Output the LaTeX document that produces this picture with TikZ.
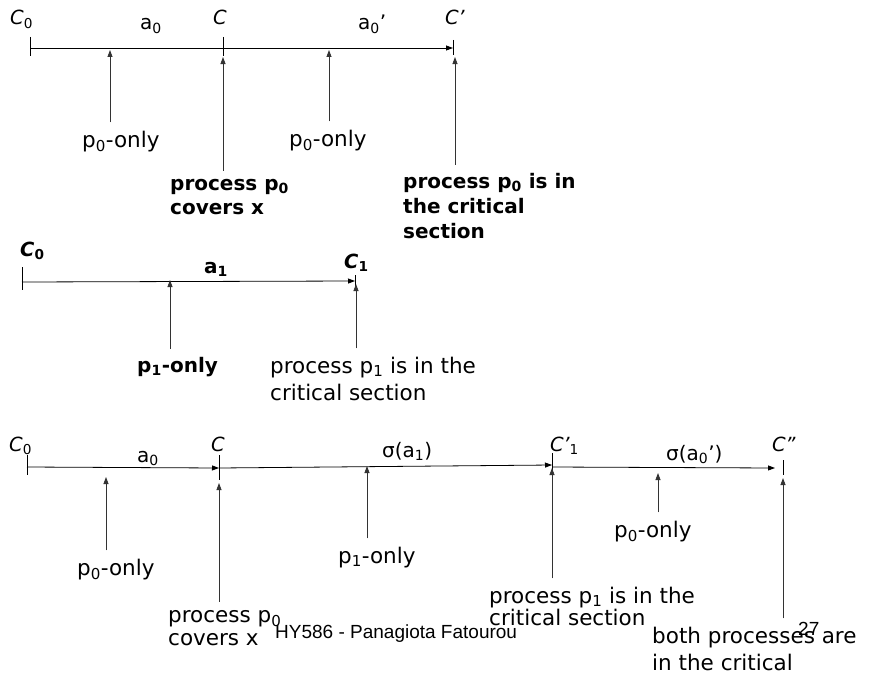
\documentclass[tikz,border=0pt]{standalone}
\usepackage{fontspec}
\setmainfont{DejaVu Sans}
\newfontfamily\slidefont{Liberation Sans}
\usetikzlibrary{arrows.meta}
\newcommand{\idx}[1]{\textsubscript{\upshape #1}}

\begin{document}
\begin{tikzpicture}[
    x=1pt, y=-1pt,
    cfg/.style={
        anchor=base west,
        inner sep=0pt,
        font=\fontsize{19.5}{22}\selectfont\itshape
    },
    act/.style={
        anchor=base west,
        inner sep=0pt,
        font=\fontsize{20}{22}\selectfont
    },
    note/.style={
        anchor=base west,
        inner sep=0pt,
        align=left,
        font=\fontsize{21.5}{25}\selectfont
    },
    bnote/.style={
        note,
        font=\fontsize{20}{24}\selectfont\bfseries
    },
    run/.style={
        -{Triangle[length=7pt, width=5pt]},
        line width=0.8pt
    },
    tick/.style={line width=0.8pt},
    feed/.style={
        -{Triangle[length=7pt, width=5pt]},
        line width=0.8pt,
        color=black!80,
        shorten <=8pt
    }
]
    \useasboundingbox (0,0) rectangle (869,677);

    % Row 1: a_0 then a_0' from C_0
    \coordinate (r1s) at (30,48);
    \coordinate (r1c) at (223,48);
    \coordinate (r1e) at (453,48);
    \draw[run] (r1s) -- (r1e);
    \draw[tick] ([yshift=11pt]r1s) -- ([yshift=-8pt]r1s);
    \draw[tick] ([yshift=11pt]r1c) -- ([yshift=-8pt]r1c);
    \draw[tick] ([yshift=8pt]r1e) -- ([yshift=-7pt]r1e);

    \node[cfg] (c0a) at (10,25) {C\idx{0}};
    \node[act] (a0a) at (140,30) {a\idx{0}};
    \node[cfg] (ca) at (213,25) {C};
    \node[act] (a0pa) at (358,30) {a\idx{0}'};
    \node[cfg] (cpa) at (445,25) {C'};

    \coordinate (h1a) at (110,50);
    \coordinate (h1b) at (223,57);
    \coordinate (h1c) at (329,50);
    \coordinate (h1d) at (455,57);

    \node[note] (p0a) at (82,147) {p\idx{0}-only};
    \node[note] (p0b) at (289,146) {p\idx{0}-only};
    \node[bnote] (cov1) at (170,214) {process p\idx{0}\\covers x};
    \node[bnote, font=\fontsize{20}{25}\selectfont\bfseries] (crit1) at (403,238) {process p\idx{0} is in\\the critical\\section};

    \draw[feed] (p0a.north -| h1a) -- (h1a);
    \draw[feed] (cov1.north -| h1b) -- (h1b);
    \draw[feed] (p0b.north -| h1c) -- (h1c);
    \draw[feed] (crit1.north -| h1d) -- (h1d);

    % Row 2: a_1 from C_0
    \coordinate (r2s) at (22,282);
    \coordinate (r2e) at (355,281);
    \draw[run] (r2s) -- (r2e);
    \draw[tick] ([yshift=15pt]r2s) -- ([yshift=-8pt]r2s);
    \draw[tick] ([yshift=6pt]r2e) -- ([yshift=-8pt]r2e);

    \node[cfg, font=\fontsize{19.5}{22}\selectfont\bfseries\itshape] (c0b) at (20,256) {C\idx{0}};
    \node[act, font=\fontsize{20}{22}\selectfont\bfseries] (a1b) at (204,273) {a\idx{1}};
    \node[cfg, font=\fontsize{19.5}{22}\selectfont\bfseries\itshape] (c1b) at (344,268) {C\idx{1}};

    \coordinate (h2a) at (170,280);
    \coordinate (h2b) at (356,284);

    \node[bnote] (p1b) at (137,372) {p\idx{1}-only};
    \node[note, font=\fontsize{21.5}{27}\selectfont] (crit2) at (270,400) {process p\idx{1} is in the\\critical section};

    \draw[feed] (p1b.north -| h2a) -- (h2a);
    \draw[feed] (crit2.north -| h2b) -- (h2b);

    % Row 3: a_0, sigma(a_1), sigma(a_0')
    \coordinate (r3s) at (27,467);
    \coordinate (r3c) at (219,468);
    \coordinate (r3d) at (552,465);
    \coordinate (r3d2) at (552,467);
    \coordinate (r3e) at (775,468);
    \coordinate (r3f) at (783,468);
    \draw[run] (r3s) -- (r3c);
    \draw[run] (r3c) -- (r3d);
    \draw[run] (r3d2) -- (r3e);
    \draw[tick] ([yshift=12pt]r3s) -- ([yshift=-8pt]r3s);
    \draw[tick] ([yshift=13pt]r3c) -- ([yshift=-12pt]r3c);
    \draw[tick] ([yshift=12pt]r3d) -- ([yshift=-5pt]r3d);
    \draw[tick] ([yshift=8pt]r3f) -- ([yshift=-7pt]r3f);

    \node[cfg] (c0c) at (9,451) {C\idx{0}};
    \node[act] (a0c) at (137,462) {a\idx{0}};
    \node[cfg] (cc) at (211,451) {C};
    \node[act] (sa1c) at (382,457) {σ(a\idx{1})};
    \node[cfg] (cp1c) at (550,451) {C'\idx{1}};
    \node[act] (sa0c) at (666,460) {σ(a\idx{0}')};
    \node[cfg] (cppc) at (772,451) {C''};

    \coordinate (h3a) at (106,477);
    \coordinate (h3b) at (219,483);
    \coordinate (h3c) at (367,466);
    \coordinate (h3d) at (552,468);
    \coordinate (h3e) at (658,473);
    \coordinate (h3f) at (783,478);

    \node[note] (p0c) at (77,575) {p\idx{0}-only};
    \node[note, font=\fontsize{21.5}{23}\selectfont] (cov3) at (168,645) {process p\idx{0}\\covers x};
    \node[note] (p1c) at (338,563) {p\idx{1}-only};
    \node[note, font=\fontsize{21.5}{22}\selectfont] (crit3) at (489,625) {process p\idx{1} is in the\\critical section};
    \node[note] (p0d) at (614,537) {p\idx{0}-only};

    % slide footer
    \node[anchor=base west, inner sep=0pt, font=\fontsize{19}{22}\slidefont] (foot) at (275,638) {HY586 - Panagiota Fatourou};
    \node[anchor=base west, inner sep=0pt, font=\fontsize{19}{22}\slidefont] (pgno) at (798,635) {27};

    \node[note, font=\fontsize{21.5}{27}\selectfont] (both3) at (652,670) {both processes are\\in the critical};

    \draw[feed] (p0c.north -| h3a) -- (h3a);
    \draw[feed] (cov3.north -| h3b) -- (h3b);
    \draw[feed] (p1c.north -| h3c) -- (h3c);
    \draw[feed] (crit3.north -| h3d) -- (h3d);
    \draw[feed] (p0d.north -| h3e) -- (h3e);
    \draw[feed] (both3.north -| h3f) -- (h3f);
\end{tikzpicture}
\end{document}
